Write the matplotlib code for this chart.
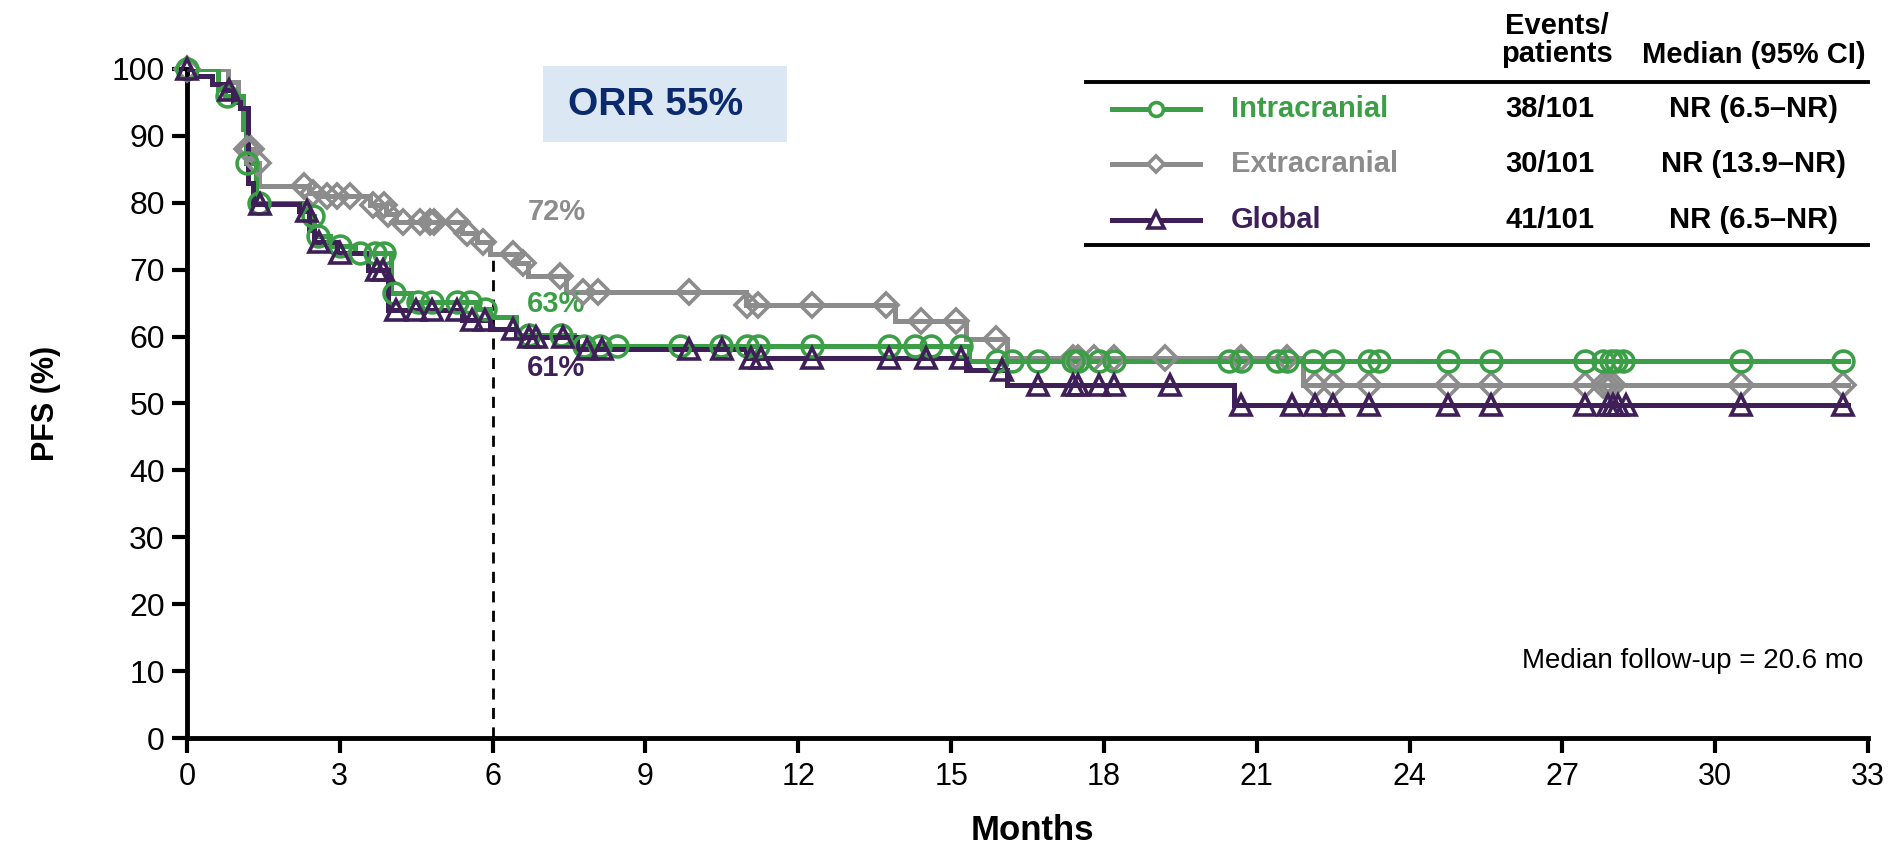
import numpy as np
import matplotlib
matplotlib.use('Agg')
import matplotlib.pyplot as plt
from matplotlib.lines import Line2D
from matplotlib.patches import Rectangle

# Kaplan-Meier style step data (months, PFS %)
intra_t = [0, 0.6, 0.75, 1.1, 1.15, 1.35, 2.4, 2.5, 2.8, 3.3, 4.0, 4.4, 5.7, 5.95, 6.45, 7.6, 15.35]
intra_s = [100, 97, 96, 91, 86, 80, 78, 75, 73.5, 72.5, 66.5, 65.2, 64.2, 62.9, 60.2, 58.6, 56.3]
intra_cens = [0, 0.78, 1.18, 1.42, 2.48, 2.58, 3.0, 3.4, 3.7, 3.86, 4.07, 4.54, 4.8, 5.3, 5.56, 5.85,
              6.72, 7.35, 7.8, 8.1, 8.45, 9.67, 10.48, 11.0, 11.2, 12.27, 13.78, 14.3, 14.6, 15.2,
              15.9, 16.2, 16.7, 17.4, 17.5, 17.9, 18.2, 20.45, 20.7, 21.4, 21.6, 22.1, 22.5, 23.2,
              23.4, 24.75, 25.6, 27.45, 27.8, 27.95, 28.05, 28.2, 30.5, 32.5]

extra_t = [0, 0.8, 1.0, 1.1, 1.15, 1.3, 1.42, 2.4, 2.6, 3.6, 3.9, 4.1, 5.4, 5.7, 5.95, 6.45, 6.7,
           7.45, 10.98, 13.9, 15.3, 16.1, 21.9]
extra_s = [100, 98, 96, 93.5, 88, 86, 82.5, 81.5, 81, 79.7, 78.3, 77.2, 75.5, 74.2, 72.3, 71, 69,
           66.7, 64.7, 62.3, 59.6, 56.8, 52.7]
extra_cens = [0, 1.17, 1.25, 1.39, 2.29, 2.48, 2.75, 2.94, 3.2, 3.66, 3.86, 3.95, 4.25, 4.58, 4.77,
              4.84, 5.3, 5.5, 5.82, 6.4, 6.6, 7.32, 7.77, 8.06, 9.86, 11.0, 11.2, 12.27, 13.73,
              14.4, 15.1, 15.88, 17.4, 17.5, 17.8, 18.2, 19.2, 20.7, 21.6, 22.15, 22.5, 23.2,
              24.75, 25.6, 27.45, 27.8, 27.9, 28.0, 30.5, 32.5]

glob_t = [0, 0.15, 0.5, 0.75, 0.9, 1.05, 1.2, 1.3, 2.2, 2.4, 2.5, 2.95, 3.55, 3.95, 5.4, 5.95,
          6.45, 7.65, 10.98, 15.3, 16.1, 20.55]
glob_s = [100, 99, 97.8, 96.8, 95, 94.2, 83, 79.8, 78.7, 76, 74.2, 72.5, 70, 64, 62.5, 61.2,
          60, 58.2, 56.8, 55, 52.8, 49.8]
glob_cens = [0, 0.82, 1.44, 2.35, 2.6, 3.0, 3.73, 3.85, 4.1, 4.5, 4.8, 5.3, 5.6, 5.85, 6.4, 6.72,
             6.85, 7.38, 7.85, 8.15, 9.86, 10.5, 11.07, 11.27, 12.27, 13.78, 14.5, 15.2, 16.0,
             16.7, 17.4, 17.5, 17.9, 18.2, 19.3, 20.7, 21.7, 22.15, 22.5, 23.2, 24.75, 25.6,
             27.45, 27.9, 28.0, 28.1, 28.25, 30.5, 32.5]

end_time = 32.6
landmark = 6

names = ['Intracranial', 'Extracranial', 'Global']
events = ['38/101', '30/101', '41/101']
medians = ['NR (6.5\u2013NR)', 'NR (13.9\u2013NR)', 'NR (6.5\u2013NR)']
landmark_labels = ['63%', '72%', '61%']

GREEN = '#3C9F47'
GRAY = '#8C8C8C'
PURPLE = '#3F1F58'

SANS = ['Liberation Sans', 'DejaVu Sans']


def step_at(times, surv, t):
    idx = np.searchsorted(np.asarray(times), np.asarray(t), side='right') - 1
    return np.asarray(surv)[idx]


fig = plt.figure(figsize=(18.92, 8.57), dpi=100)
ax = fig.add_axes([187 / 1892, 1 - 738 / 857, (1868 - 187) / 1892, (738 - 69) / 857])

series = [
    (extra_t, extra_s, extra_cens, GRAY, 'D', 12),
    (intra_t, intra_s, intra_cens, GREEN, 'o', 15),
    (glob_t, glob_s, glob_cens, PURPLE, '^', 15),
]
for t, s, c, col, mk, ms in series:
    ax.step(t + [end_time], s + [s[-1]], where='post', color=col, lw=3.6, zorder=3,
            solid_joinstyle='miter')
    ax.plot(c, step_at(t, s, c), ls='none', marker=mk, ms=ms, mfc='none', mec=col,
            mew=2.6, zorder=4, clip_on=False)

# landmark dashed line at 6 months up to the extracranial curve
ax.plot([landmark, landmark], [0, step_at(extra_t, extra_s, [landmark])[0]],
        color='black', lw=2, ls=(0, (4, 3)), zorder=2)

ax.text(6.68, 64.8, landmark_labels[0], color=GREEN, fontsize=21, fontweight='bold',
        family=SANS, va='center', ha='left')
ax.text(6.68, 78.6, landmark_labels[1], color=GRAY, fontsize=21, fontweight='bold',
        family=SANS, va='center', ha='left')
ax.text(6.68, 55.3, landmark_labels[2], color=PURPLE, fontsize=21, fontweight='bold',
        family=SANS, va='center', ha='left')

ax.set_xlim(0, 33)
ax.set_ylim(0, 100)
ax.set_xticks(range(0, 34, 3))
ax.set_yticks(range(0, 101, 10))
for side in ['top', 'right']:
    ax.spines[side].set_visible(False)
for side in ['left', 'bottom']:
    ax.spines[side].set_linewidth(3.5)
ax.tick_params(axis='both', length=11, width=3, direction='out')
ax.tick_params(axis='x', pad=6)
ax.tick_params(axis='y', pad=5)
for lab in ax.get_xticklabels():
    lab.set_fontfamily(SANS)
    lab.set_fontsize(22)
for lab in ax.get_yticklabels():
    lab.set_fontfamily(SANS)
    lab.set_fontsize(23)

ax.set_ylabel('PFS (%)', fontsize=22, fontweight='bold', family=SANS, va='center')
ax.yaxis.set_label_coords(-0.084, 0.5)
ax.set_xlabel('Months', fontsize=25, fontweight='bold', family=SANS, va='center')
ax.xaxis.set_label_coords(0.503, -0.139)

ax.text(32.9, 11.5, 'Median follow-up = 20.6 mo', fontsize=20, family=SANS,
        ha='right', va='center')

# ORR box
fig.add_artist(Rectangle((543 / 1892, 1 - 142 / 857), 244 / 1892, 76 / 857,
                         transform=fig.transFigure, facecolor='#DCE7F4', edgecolor='none'))
fig.text(656 / 1892, 1 - 105 / 857, 'ORR 55%', fontsize=28, fontweight='bold',
         color='#0B2A6E', ha='center', va='center', family=SANS)

# table / legend in the upper right
fx = lambda x: x / 1892
fy = lambda y: 1 - y / 857
fig.add_artist(Line2D([fx(1086), fx(1868)], [fy(82), fy(82)], color='black', lw=2.8))
fig.add_artist(Line2D([fx(1086), fx(1868)], [fy(245), fy(245)], color='black', lw=2.8))
fig.text(fx(1557), fy(40), 'Events/\npatients', fontsize=21, fontweight='bold', family=SANS,
         ha='center', va='center', linespacing=1.0)
fig.text(fx(1754), fy(55), 'Median (95% CI)', fontsize=21, fontweight='bold', family=SANS,
         ha='center', va='center')

row_y = [109, 164, 220]
row_cols = [GREEN, GRAY, PURPLE]
row_marks = ['o', 'D', '^']
row_ms = [10, 8, 11]
for i in range(3):
    y = fy(row_y[i])
    fig.add_artist(Line2D([fx(1112), fx(1200)], [y, y], color=row_cols[i], lw=3.6))
    fig.add_artist(Line2D([fx(1156)], [y], color=row_cols[i], marker=row_marks[i],
                          ms=row_ms[i], mfc='white', mec=row_cols[i], mew=2.6, ls='none'))
    fig.text(fx(1231), y, names[i], color=row_cols[i], fontsize=21, fontweight='bold',
             family=SANS, ha='left', va='center')
    fig.text(fx(1550), y, events[i], fontsize=21, fontweight='bold', family=SANS,
             ha='center', va='center')
    fig.text(fx(1753), y, medians[i], fontsize=21, fontweight='bold', family=SANS,
             ha='center', va='center')

fig.savefig('out.png', dpi=100)
